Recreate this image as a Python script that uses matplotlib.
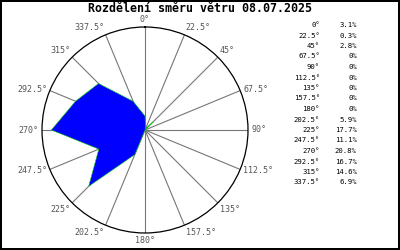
import numpy as np
import matplotlib
matplotlib.use("Agg")
import matplotlib.pyplot as plt

smery = [0, 22.5, 45, 67.5, 90, 112.5, 135, 157.5, 180, 202.5, 225, 247.5, 270, 292.5, 315, 337.5]
procenta = [3.1, 0.3, 2.8, 0, 0, 0, 0, 0, 0, 5.9, 17.7, 11.1, 20.8, 16.7, 14.6, 6.9]
titulek = "Rozdělení směru větru 08.07.2025"

mono = "DejaVu Sans Mono"

fig = plt.figure(figsize=(4, 2.5), dpi=100)
fig.patch.set_facecolor("white")
fig.patch.set_edgecolor("black")
fig.patch.set_linewidth(1.5)

ax = fig.add_axes([0.105, 0.068, 0.515, 0.824], projection="polar")
ax.set_theta_zero_location("N")
ax.set_theta_direction(-1)

theta = np.deg2rad(smery + [smery[0]])
r = procenta + [procenta[0]]
ax.fill(theta, r, facecolor="#0000ff", edgecolor="#00cc00", linewidth=0.4, zorder=3)

rmax = max(procenta) * 1.1
ax.set_ylim(0, rmax)
ax.set_yticks([])
ax.set_xticks(np.deg2rad(smery))
ax.set_xticklabels([])
ax.xaxis.grid(True, color="#777777", linewidth=0.8, linestyle="-")
ax.spines["polar"].set_color("black")
ax.spines["polar"].set_linewidth(0.9)

# popisky smeru kolem kruhu
for s in smery:
    sn = np.sin(np.deg2rad(s))
    cs = np.cos(np.deg2rad(s))
    ha = "left" if sn > 0.01 else ("right" if sn < -0.01 else "center")
    va = "bottom" if cs > 0.5 else ("top" if cs < -0.5 else "center")
    ax.text(np.deg2rad(s), rmax * 1.03, f"{s:g}°", ha=ha, va=va,
            family=mono, fontsize=6, color="#555555")

fig.text(0.5, 0.964, titulek, ha="center", va="center", family=mono, fontsize=8.4, fontweight="bold")

# legenda vpravo
y0 = 0.9
krok = 10.5 / 250
for i, (s, p) in enumerate(zip(smery, procenta)):
    y = y0 - i * krok
    fig.text(0.80, y, f"{s:g}°", ha="right", va="center", family=mono, fontsize=5.2)
    fig.text(0.892, y, f"{p:g}%", ha="right", va="center", family=mono, fontsize=5.2)

fig.savefig("out.png", dpi=100, facecolor=fig.get_facecolor(), edgecolor=fig.get_edgecolor())
